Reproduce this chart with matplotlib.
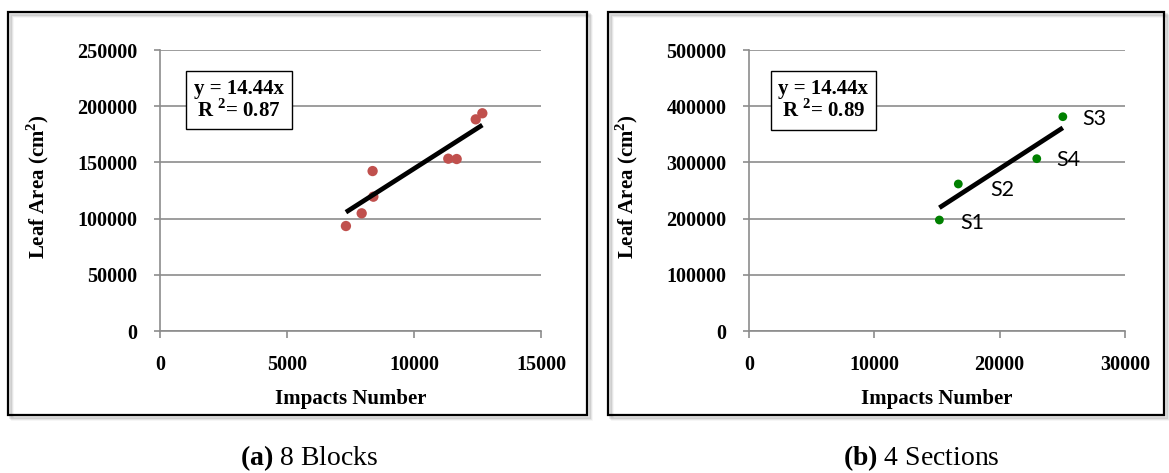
import matplotlib.pyplot as plt
from matplotlib.patches import Rectangle
import numpy as np

# (a) 8 blocks
blocks_x = [7320, 7940, 8370, 8400, 11350, 11680, 12430, 12690]
blocks_y = [93400, 104700, 142300, 119500, 153300, 153000, 188300, 193700]
# (b) 4 sections
sections = ["S1", "S2", "S3", "S4"]
sections_x = [15190, 16700, 25040, 22960]
sections_y = [197500, 261600, 381300, 306600]
slope = 14.44
r2_blocks = 0.87
r2_sections = 0.89

serif = ["Liberation Serif", "DejaVu Serif"]
grid_col = "#8c8c8c"
W, H = 1169, 473

plt.rcParams["mathtext.fontset"] = "custom"
plt.rcParams["mathtext.rm"] = "Liberation Serif:bold"
plt.rcParams["mathtext.bf"] = "Liberation Serif:bold"

fig = plt.figure(figsize=(W / 100, H / 100), dpi=100)


def frame(x0, x1):
    y0, y1 = 415, 12
    # soft shadow
    for k, a in enumerate([0.10, 0.07, 0.04]):
        sh = Rectangle(((x0 + 2 + k) / W, 1 - (y0 + 2 + k) / H), (x1 - x0) / W, (y0 - y1) / H,
                       transform=fig.transFigure, facecolor="none", edgecolor="black",
                       alpha=a, lw=2, zorder=0)
        fig.add_artist(sh)
    r = Rectangle((x0 / W, 1 - y0 / H), (x1 - x0) / W, (y0 - y1) / H,
                  transform=fig.transFigure, facecolor="none", edgecolor="black", lw=1.6, zorder=1)
    fig.add_artist(r)


def setup(ax, xmax, ymax, xstep, ystep):
    ax.set_xlim(0, xmax)
    ax.set_ylim(0, ymax)
    ax.set_xticks(np.arange(0, xmax + 1, xstep))
    ax.set_yticks(np.arange(0, ymax + 1, ystep))
    for s in ["top", "right"]:
        ax.spines[s].set_visible(False)
    for s in ["left", "bottom"]:
        ax.spines[s].set_color(grid_col)
        ax.spines[s].set_linewidth(1.2)
    ax.yaxis.grid(True, color=grid_col, lw=1.2)
    ax.set_axisbelow(True)
    ax.tick_params(axis="both", colors=grid_col, width=1.2, direction="out",
                   labelcolor="black", labelsize=14.5)
    ax.tick_params(axis="x", length=5, pad=12)
    ax.tick_params(axis="y", length=4.3, pad=12)
    for lab in ax.get_xticklabels() + ax.get_yticklabels():
        lab.set_fontfamily(serif)
        lab.set_fontweight("bold")
    ax.set_xlabel("Impacts Number", fontfamily=serif, fontweight="bold", fontsize=15)
    ax.set_ylabel("Leaf Area (cm$^\\mathbf{2}$)", fontfamily=serif, fontweight="bold", fontsize=15)
    ax.xaxis.set_label_coords(0.5, -(399 - 331) / 281)
    ax.xaxis.label.set_va("center")
    ax.yaxis.set_label_coords(-122 / (ax.get_position().width * W), 0.514)
    ax.yaxis.label.set_va("center")


def eq_box(ax, x, y, r2):
    ax.text(x, y, "y = %.2fx\nR $^2$= %.2f" % (slope, r2), transform=ax.transAxes,
            ha="center", va="center", fontfamily=serif, fontweight="bold", fontsize=15,
            linespacing=1.0,
            bbox=dict(boxstyle="square,pad=0.38", facecolor="white", edgecolor="black", lw=1))


frame(8, 587)
frame(608, 1164)

ax1 = fig.add_axes([160 / W, 1 - 331 / H, 381 / W, 281 / H])
setup(ax1, 15000, 250000, 5000, 50000)
ax1.scatter(blocks_x, blocks_y, s=55, color="#c0504d", zorder=3, edgecolors="none")
xl = np.array([min(blocks_x), max(blocks_x)])
ax1.plot(xl, slope * xl, color="black", lw=3.4, solid_capstyle="butt", zorder=4)
eq_box(ax1, 0.207, 0.822, r2_blocks)

ax2 = fig.add_axes([749 / W, 1 - 331 / H, 376 / W, 281 / H])
setup(ax2, 30000, 500000, 10000, 100000)
ax2.scatter(sections_x, sections_y, s=40, color="#008000", zorder=3, edgecolors="none")
xl = np.array([min(sections_x), max(sections_x)])
ax2.plot(xl, slope * xl, color="black", lw=3.4, solid_capstyle="butt", zorder=4)
label_offsets = [(15, -2), (23, -4), (14, -2), (14, -1)]
for name, x, y, off in zip(sections, sections_x, sections_y, label_offsets):
    ax2.annotate(name, (x, y), xytext=off, textcoords="offset points", ha="left", va="center",
                 fontfamily=["Lato", "DejaVu Sans"], fontsize=15.5)
eq_box(ax2, 0.198, 0.82, r2_sections)

fig.text(309 / W, 1 - 458 / H, r"$\mathbf{(a)}$ 8 Blocks", ha="center", va="center",
         fontfamily=serif, fontsize=20)
fig.text(921 / W, 1 - 458 / H, r"$\mathbf{(b)}$ 4 Sections", ha="center", va="center",
         fontfamily=serif, fontsize=20)

fig.savefig("out.png", dpi=100)
